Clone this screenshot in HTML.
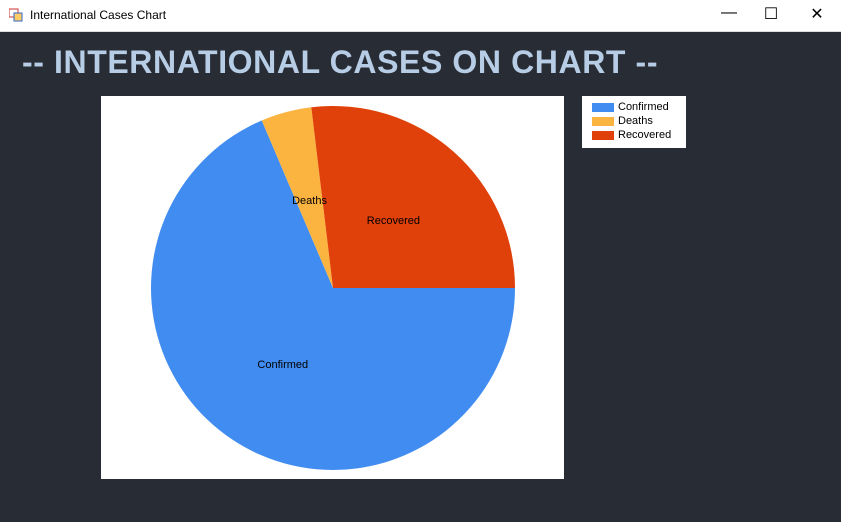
<!DOCTYPE html>
<html><head><meta charset="utf-8"><style>
body{margin:0;width:841px;height:522px;overflow:hidden;background:#282c34;font-family:"Liberation Sans",sans-serif;position:relative}
#tb{position:absolute;left:0;top:0;width:841px;height:31px;background:#fff;border-bottom:1px solid #ddd}
#tt{position:absolute;left:30px;top:8px;font-size:12px;color:#000}
.ctl{position:absolute;top:4px;font-size:16px;color:#000;width:46px;text-align:center}
#title{position:absolute;left:22px;top:44px;font-size:32px;font-weight:bold;color:#b7cde6;letter-spacing:0.6px;white-space:nowrap}
#chart{position:absolute;left:101px;top:96px;width:463px;height:383px;background:#fff}
#legend{position:absolute;left:582px;top:96px;width:104px;height:52px;background:#fff;font-size:11px}
.li{position:absolute;left:10px;height:12px}
.sw{position:absolute;left:0;top:2px;width:22px;height:9px}
.lt{position:absolute;left:26px;top:0px;white-space:nowrap}
</style></head><body>
<div id="tb">
<svg style="position:absolute;left:9px;top:8px" width="14" height="14"><rect x="0" y="1" width="9" height="8" fill="#fff" stroke="#c33"/><rect x="5" y="5" width="8" height="8" fill="#fc6" stroke="#36c"/></svg>
<div id="tt">International Cases Chart</div>
<div class="ctl" style="left:706px">&#8212;</div>
<div class="ctl" style="left:748px">&#9744;</div>
<div class="ctl" style="left:794px">&#10005;</div>
</div>
<div id="title">-- INTERNATIONAL CASES ON CHART --</div>
<div id="chart"><svg id="pie" width="463" height="383"></svg></div>
<div id="legend"></div>
<script>
const categories=["Confirmed","Deaths","Recovered"];
const values=[686,45,269];
const colors=["#418cf0","#fcb441","#e0400a"];
const svg=document.getElementById('pie');
const ns="http://www.w3.org/2000/svg";
const cx=232,cy=192,r=182;
const total=values.reduce((a,b)=>a+b,0);
let a0=0;
const mids=[];
values.forEach((v,i)=>{
  const a1=a0+v/total*2*Math.PI;
  const p=document.createElementNS(ns,'path');
  const x0=cx+r*Math.cos(a0),y0=cy+r*Math.sin(a0),x1=cx+r*Math.cos(a1),y1=cy+r*Math.sin(a1);
  p.setAttribute('d',`M${cx},${cy}L${x0},${y0}A${r},${r} 0 ${a1-a0>Math.PI?1:0} 1 ${x1},${y1}Z`);
  p.setAttribute('fill',colors[i]);
  
  
  svg.appendChild(p);
  mids.push((a0+a1)/2);
  a0=a1;
});
mids.forEach((am,i)=>{
  const t=document.createElementNS(ns,'text');
  t.setAttribute('x',cx+r*0.5*Math.cos(am));
  t.setAttribute('y',cy+r*0.5*Math.sin(am)+4);
  t.setAttribute('text-anchor','middle');
  t.setAttribute('font-size','11');
  t.setAttribute('font-family','Liberation Sans, sans-serif');
  t.textContent=categories[i];
  
  
  svg.appendChild(t);
});
const lg=document.getElementById('legend');
categories.forEach((c,i)=>{
  const d=document.createElement('div');
  d.className='li';d.style.top=(5+i*14)+'px';
  d.innerHTML=`<div class="sw" style="background:${colors[i]}"></div><div class="lt">${c}</div>`;
  
  
  lg.appendChild(d);
});
</script>
</body></html>
